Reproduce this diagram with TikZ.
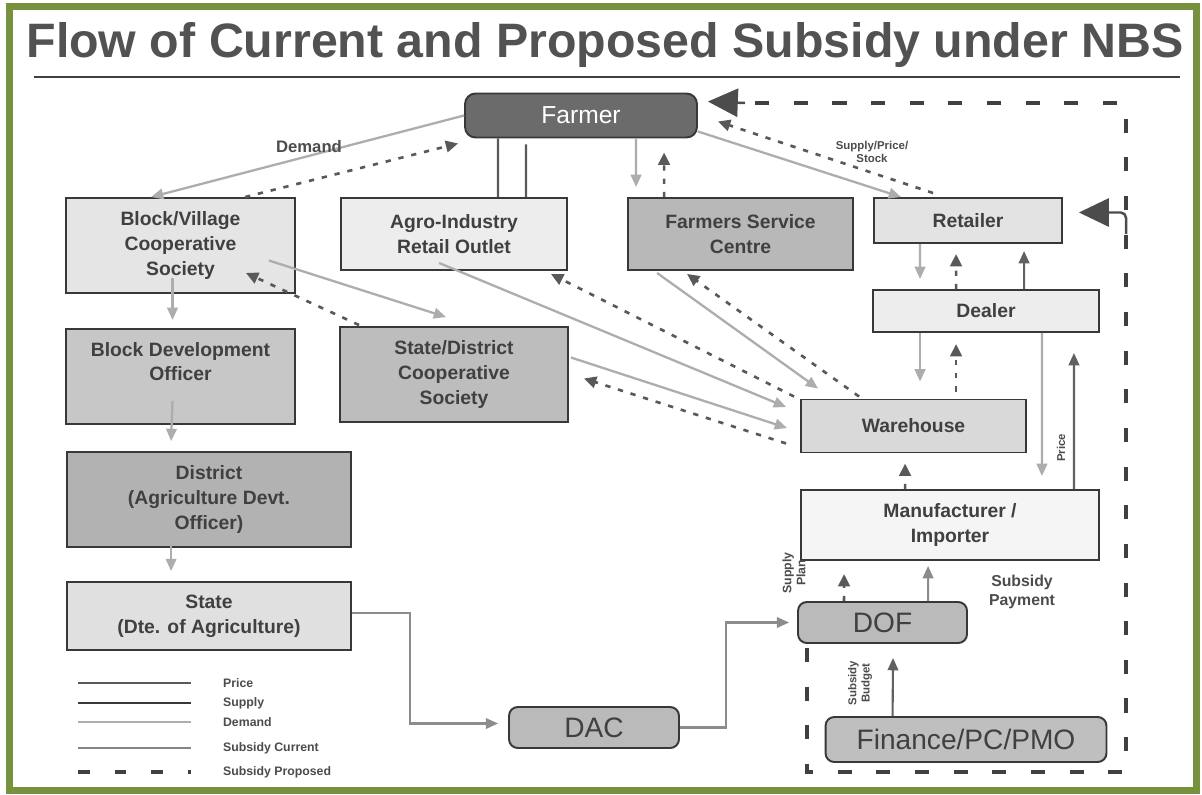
\documentclass[tikz,border=0pt]{standalone}
\usepackage{fontspec}
\setmainfont{Liberation Sans}
\usetikzlibrary{arrows.meta,calc,positioning}
\definecolor{framegreen}{RGB}{118,146,60}

\begin{document}
\begin{tikzpicture}[
  x=0.02cm, y=-0.02cm,
  font=\bfseries\fontsize{11}{14}\selectfont,
  box/.style={draw=black!78, line width=1.1pt, align=center, text=black!75, inner sep=2pt},
  rbox/.style={box, rounded corners=5pt, font=\mdseries\fontsize{16}{18}\selectfont},
  lbl/.style={align=center, text=black!70, inner sep=1pt, font=\bfseries\fontsize{7}{8}\selectfont},
  dem/.style={-{Triangle[length=7pt,width=6pt]}, draw=black!32, line width=1.3pt},
  cur/.style={-{Triangle[length=7pt,width=6pt]}, draw=black!45, line width=1.2pt},
  dark/.style={-{Triangle[length=7pt,width=6pt]}, draw=black!62, line width=1.2pt},
  link/.style={draw=black!65, line width=1.3pt},
  prop/.style={-{Triangle[length=7pt,width=6.5pt]}, draw=black!65, line width=1.5pt, dash pattern=on 3pt off 4.5pt},
  bigdash/.style={draw=black!75, line width=2.8pt, dash pattern=on 8pt off 14pt},
  bigtip/.style={-{Triangle[length=17pt,width=16pt]}, draw=black!70, line width=1.4pt}
]
\fill[white] (0,0) rectangle (1202,794);
\useasboundingbox (0,0) rectangle (1202,794);
\draw[framegreen, line width=0.14cm] (9.5,6.5) rectangle (1196.5,790.5);

% title
\node[anchor=base, text=black!68, font=\bfseries\fontsize{27.5}{30}\selectfont] (title) at (605,58) {Flow of Current and Proposed Subsidy under NBS};
\draw[black!75, line width=1.6pt] (34,77) -- (1180,77);

% boxes
\node[box, fill=black!58, rounded corners=6pt, minimum width=4.64cm, minimum height=0.88cm, text=white, font=\mdseries\fontsize{14}{16}\selectfont] (farmer) at (581,115.5) {Farmer};
\node[box, fill=black!10, minimum width=4.58cm, minimum height=1.9cm] (bvcs) at (180.5,245.5) {Block/Village\\Cooperative\\Society};
\node[box, fill=black!7, minimum width=4.52cm, minimum height=1.44cm] (airo) at (454,234) {Agro-Industry\\Retail Outlet};
\node[box, fill=black!28, minimum width=4.5cm, minimum height=1.44cm] (fsc) at (740.5,234) {Farmers Service\\Centre};
\node[box, fill=black!11, minimum width=3.76cm, minimum height=0.9cm] (retailer) at (968,220.5) {Retailer};
\node[box, fill=black!7, minimum width=4.52cm, minimum height=0.84cm] (dealer) at (986,311) {Dealer};
\node[box, fill=black!22, minimum width=4.58cm, minimum height=1.9cm, below=0.68cm of bvcs] (bdo) {Block Development\\Officer\\[3pt]\mbox{}};
\node[box, fill=black!26, minimum width=4.56cm, minimum height=1.9cm] (sdcs) at (454,374.5) {State/District\\Cooperative\\Society};
\node[box, fill=black!15, minimum width=4.5cm, minimum height=1.06cm] (warehouse) at (913.5,426) {Warehouse};
\node[box, fill=black!30, minimum width=5.68cm, minimum height=1.9cm] (district) at (209,499.5) {District\\(Agriculture Devt.\\Officer)};
\node[box, fill=black!4, minimum width=5.96cm, minimum height=1.4cm] (manu) at (950,525) {Manufacturer /\\Importer};
\node[box, fill=black!12, minimum width=5.68cm, minimum height=1.36cm] (state) at (209,616) {State\\(Dte. of Agriculture)};
\node[rbox, fill=black!27, minimum width=3.38cm, minimum height=0.82cm] (dof) at (882.5,622.5) {DOF};
\node[rbox, fill=black!27, minimum width=3.4cm, minimum height=0.82cm] (dac) at (594,727.5) {DAC};
\node[rbox, fill=black!25, minimum width=5.62cm, minimum height=0.9cm] (finance) at (966,739.5) {Finance/PC/PMO};

% farmer links
\draw[dem] (farmer.west) -- ($(bvcs.north west)+(86,0)$);
\node[lbl, font=\bfseries\fontsize{9.5}{11}\selectfont] (ldemand) at (309,147) {Demand};
\draw[prop] ($(bvcs.north west)+(180,0)$) -- ($(farmer.south west)+(-6,5)$);
\draw[link] ($(farmer.south west)+(34,0)$) -- ($(airo.north west)+(158,0)$);
\draw[link] ($(farmer.south west)+(62,6)$) -- ($(airo.north west)+(186,0)$);
\draw[dem] ($(farmer.south west)+(172,0)$) -- ($(fsc.north west)+(9,-10)$);
\draw[prop] ($(fsc.north west)+(37,0)$) -- ($(farmer.south west)+(200,14)$);
\draw[dem] ($(farmer.east)+(0,16)$) -- ($(retailer.north west)+(28,0)$);
\draw[prop] ($(retailer.north west)+(60,-4)$) -- ($(farmer.east)+(20,6)$);
\node[lbl, font=\bfseries\fontsize{6.5}{7.5}\selectfont] (lsupply) at (872,152) {Supply/Price/\\Stock};

% proposed subsidy loop
\coordinate (ptl) at (745,103);
\coordinate (ptr) at (1126,103);
\coordinate (pbr) at (1126,772);
\coordinate (pbl) at (807,772);
\coordinate (pdof) at (807,648);
\coordinate (phook) at (1126,234);
\draw[bigdash] (pdof) -- (pbl) -- (pbr) -- (ptr) -- (ptl);
\draw[bigtip] (ptl) -- ($(farmer.north east)+(10,9)$);
\draw[bigtip, rounded corners=3pt] (phook) |- ($(retailer.east)+(16,-8)$);

% left column
\draw[dem] ($(bvcs.south)+(-8,-16)$) -- ($(bdo.north)+(-8,-8)$);
\draw[dem] ($(bdo.south)+(-8,-24)$) -- ($(district.north west)+(105,-10)$);
\draw[dem] ($(district.south west)+(105,-4)$) -- ($(state.north west)+(105,-10)$);
\draw[cur] ($(state.east)+(0,-3)$) -- ++(58,0) |- ($(dac.west)+(-10,-4)$);
\draw[cur] (dac.east) -- ++(46,0) |- ($(dof.west)+(-8,0)$);

% cooperative and outlets to warehouse
\draw[dem] ($(bvcs.east)+(-27,15)$) -- ($(sdcs.north west)+(107,-9)$);
\draw[prop] ($(sdcs.north west)+(20,-1)$) -- ($(bvcs.south east)+(-50,-21)$);
\draw[dem] ($(airo.south west)+(99,-8)$) -- ($(warehouse.west)+(-14,-19)$);
\draw[prop] ($(warehouse.north west)+(-6,-2)$) -- ($(airo.south east)+(-17,3)$);
\draw[dem] ($(sdcs.east)+(2,-17)$) -- ($(warehouse.west)+(-13,2)$);
\draw[prop] ($(warehouse.south west)+(-14,-10)$) -- ($(sdcs.east)+(15,4)$);
\draw[dem] ($(fsc.south west)+(30,2)$) -- ($(warehouse.north west)+(18,-10)$);
\draw[prop] ($(warehouse.north west)+(59,-2)$) -- ($(fsc.south west)+(60,3)$);

% retailer, dealer, warehouse, manufacturer
\draw[dem] ($(retailer.south west)+(47,0)$) -- ($(dealer.north west)+(48,-10)$);
\draw[prop] ($(dealer.north west)+(84,0)$) -- ($(retailer.south west)+(83,10)$);
\draw[dark] ($(dealer.north west)+(152,0)$) -- ($(retailer.south west)+(151,7)$);
\draw[dem] ($(dealer.south west)+(48,0)$) -- ($(warehouse.north west)+(120,-17)$);
\draw[prop] ($(warehouse.north west)+(156,-7)$) -- ($(dealer.south west)+(84,11)$);
\draw[dem] ($(dealer.south east)+(-58,0)$) -- ($(manu.north east)+(-58,-13)$);
\node[lbl, rotate=90, font=\bfseries\fontsize{6.5}{7.5}\selectfont] (lprice) at (1061,448) {Price};
\draw[dark] ($(manu.north east)+(-26,0)$) -- ($(dealer.south east)+(-26,20)$);
\draw[prop] ($(manu.north west)+(105,0)$) -- ($(warehouse.south west)+(105,10)$);

% dof
\draw[prop] ($(dof.north west)+(47,0)$) -- ($(manu.south west)+(44,13)$);
\draw[cur] ($(dof.north west)+(131,0)$) -- ($(manu.south west)+(128,5)$);
\node[lbl, rotate=90] (lplan) at (794,573) {Supply\\Plan};
\node[lbl, font=\bfseries\fontsize{9}{11}\selectfont] (lpay) at (1022,592) {Subsidy\\Payment};
\draw[dark] ($(finance.north west)+(68,0)$) -- ($(dof.south west)+(96,14)$);
\node[lbl, rotate=90, font=\bfseries\fontsize{6.5}{7.5}\selectfont] (lbudget) at (860,683) {Subsidy\\Budget};

% legend
\node[lbl, anchor=west] (lgprice) at (221,683) {Price};
\node[lbl, anchor=west] (lgsupply) at (221,703) {Supply};
\node[lbl, anchor=west] (lgdemand) at (221,722) {Demand};
\node[lbl, anchor=west] (lgcurrent) at (221,748) {Subsidy Current};
\node[lbl, anchor=west] (lgproposed) at (221,772) {Subsidy Proposed};
\draw[link] ($(lgprice.west)+(-143,0)$) -- ++(113,0);
\draw[link, black!78, line width=1.5pt] ($(lgsupply.west)+(-143,0)$) -- ++(113,0);
\draw[link, black!32] ($(lgdemand.west)+(-143,0)$) -- ++(113,0);
\draw[link, black!48] ($(lgcurrent.west)+(-143,0)$) -- ++(113,0);
\draw[bigdash, dash pattern=on 6.8pt off 14pt] ($(lgproposed.west)+(-143,0)$) -- ++(113,0);
\end{tikzpicture}
\end{document}
